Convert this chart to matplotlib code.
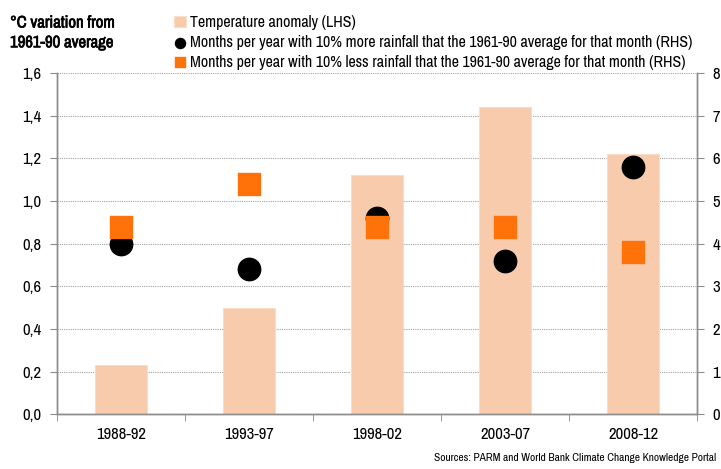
import matplotlib
matplotlib.use("Agg")
import matplotlib.pyplot as plt
import matplotlib.patheffects as pe
from matplotlib.ticker import FuncFormatter, FixedLocator

plt.rcParams['font.family'] = ['Arial Narrow', 'Liberation Sans Narrow', 'Archivo Narrow',
                               'Roboto Condensed', 'Liberation Sans', 'DejaVu Sans']

# datos
periods = ['1988-92', '1993-97', '1998-02', '2003-07', '2008-12']
temp_anomaly = [0.23, 0.50, 1.12, 1.44, 1.22]
months_more_rain = [4.0, 3.4, 4.6, 3.6, 5.8]
months_less_rain = [4.4, 5.4, 4.4, 4.4, 3.8]

bar_color = '#F7CBAC'
orange = '#FF7109'
grey = '#8C8C8C'

fig = plt.figure(figsize=(7.21, 4.69), dpi=100)
ax = fig.add_axes([0.079, 0.117, 0.888, 0.727])
ax2 = ax.twinx()

x = list(range(len(periods)))
bars = ax.bar(x, temp_anomaly, width=0.41, color=bar_color, edgecolor='#FBDCC8',
              linewidth=0.8, label='Temperature anomaly (LHS)', zorder=2)
dots = ax2.scatter(x, months_more_rain, s=260, marker='o', color='black', zorder=3,
                   label='Months per year with 10% more rainfall that the 1961-90 average for that month (RHS)')
squares = ax2.scatter(x, months_less_rain, s=240, marker='s', color=orange, zorder=4,
                      label='Months per year with 10% less rainfall that the 1961-90 average for that month (RHS)')

ax.set_xlim(-0.5, len(periods) - 0.5)
ax.set_ylim(0, 1.6)
ax2.set_ylim(0, 8)
ax.set_yticks([i * 0.2 for i in range(9)])
ax.yaxis.set_major_formatter(FuncFormatter(lambda v, p: f'{v:.1f}'.replace('.', ',')))
ax2.set_yticks(range(9))

ax.set_xticks(x)
ax.set_xticklabels(periods)
ax.xaxis.set_minor_locator(FixedLocator([i - 0.5 for i in range(len(periods) + 1)]))
ax.tick_params(axis='x', which='major', length=0, pad=9, labelsize=12)
ax.tick_params(axis='x', which='minor', length=5, color=grey, direction='out')
ax.tick_params(axis='y', length=5, color=grey, labelsize=12, pad=6)
ax2.tick_params(axis='y', length=5, color=grey, labelsize=12, pad=6)

ax.set_axisbelow(True)
ax.yaxis.grid(True, linestyle=(0, (1, 1)), color='#A0A0A0', linewidth=0.8)

for a in (ax, ax2):
    a.spines['top'].set_visible(False)
    for s in ('left', 'right', 'bottom'):
        a.spines[s].set_color(grey)
        a.spines[s].set_linewidth(1)

# titulo en negrita (trazo fino para simular bold)
fig.text(0.014, 0.967, '°C variation from\n1961-90 average', fontsize=12,
         va='top', ha='left', linespacing=1.4,
         path_effects=[pe.withStroke(linewidth=0.5, foreground='black')])

fig.legend(handles=[bars, dots, squares], loc='upper left', bbox_to_anchor=(0.242, 0.968),
           frameon=False, fontsize=11.5, handlelength=0.7, handletextpad=0.3,
           labelspacing=0.3, borderaxespad=0, borderpad=0, markerscale=0.45)

fig.text(0.993, 0.012, 'Sources: PARM and World Bank Climate Change Knowledge Portal',
         fontsize=8.2, ha='right', va='bottom')

fig.savefig('out.png', dpi=100)
